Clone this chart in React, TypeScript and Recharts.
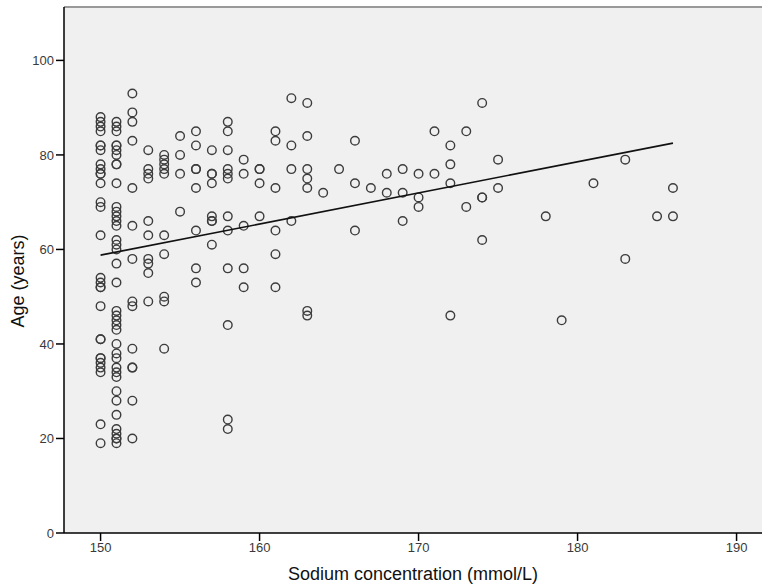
import React from 'react';
import {
  ScatterChart, Scatter, XAxis, YAxis, CartesianGrid, ReferenceLine,
} from 'recharts';

// one entry per patient, grouped by sodium value
const sodium = [
  150, 150, 150, 150, 150, 150, 150, 150, 150, 150, 150, 150, 150, 150, 150, 150, 150, 150, 150, 150, 150, 150, 150, 150, 150, 150, 150, 150, 150,
  151, 151, 151, 151, 151, 151, 151, 151, 151, 151, 151, 151, 151, 151, 151, 151, 151, 151, 151, 151, 151, 151, 151, 151, 151, 151, 151, 151, 151, 151, 151, 151, 151, 151, 151, 151, 151, 151, 151,
  152, 152, 152, 152, 152, 152, 152, 152, 152, 152, 152, 152, 152, 152,
  153, 153, 153, 153, 153, 153, 153, 153, 153, 153,
  154, 154, 154, 154, 154, 154, 154, 154, 154, 154,
  155, 155, 155, 155,
  156, 156, 156, 156, 156, 156, 156, 156,
  157, 157, 157, 157, 157, 157, 157, 157,
  158, 158, 158, 158, 158, 158, 158, 158, 158, 158, 158, 158,
  159, 159, 159, 159, 159,
  160, 160, 160, 160,
  161, 161, 161, 161, 161, 161,
  162, 162, 162, 162,
  163, 163, 163, 163, 163, 163, 163,
  164, 165, 166, 166, 166, 167, 168, 168, 169, 169, 169,
  170, 170, 170, 171, 171, 172, 172, 172, 172, 173, 173,
  174, 174, 174, 174, 175, 175, 178, 179, 181, 183, 183, 185, 186, 186,
];

const age = [
  88, 87, 86, 85, 82, 82, 81, 78, 77, 76, 76, 74, 70, 69, 63, 54, 53, 52, 52, 48, 41, 41, 37, 37, 36, 35, 34, 23, 19,
  87, 86, 85, 82, 82, 81, 80, 78, 78, 74, 69, 68, 67, 66, 65, 62, 61, 60, 57, 53, 47, 46, 45, 44, 43, 40, 38, 37, 35, 34, 33, 30, 28, 25, 22, 21, 20, 20, 19,
  93, 89, 87, 83, 73, 65, 58, 49, 48, 39, 35, 35, 28, 20,
  81, 77, 76, 75, 66, 63, 58, 57, 55, 49,
  80, 79, 78, 77, 76, 63, 59, 50, 49, 39,
  84, 80, 76, 68,
  85, 82, 77, 77, 73, 64, 56, 53,
  81, 76, 76, 74, 67, 66, 66, 61,
  87, 85, 81, 77, 76, 75, 67, 64, 56, 44, 24, 22,
  79, 76, 65, 56, 52,
  77, 77, 74, 67,
  85, 83, 73, 64, 59, 52,
  92, 82, 77, 66,
  91, 84, 77, 75, 73, 47, 46,
  72, 77, 83, 74, 64, 73, 76, 72, 77, 72, 66,
  76, 71, 69, 85, 76, 82, 78, 74, 46, 85, 69,
  91, 71, 71, 62, 79, 73, 67, 45, 74, 79, 58, 67, 73, 67,
];

// fitted line end points
const fitSodium = [150, 186];
const fitAge = [58.8, 82.5];

const xTicks = [150, 160, 170, 180, 190];
const yTicks = [0, 20, 40, 60, 80, 100];
const xDomain: [number, number] = [147.7, 191.6];
const yDomain: [number, number] = [0, 111.3];

const points = sodium.map((s, i) => ({ sodium: s, age: age[i] }));
const fitLine = fitSodium.map((s, i) => ({ sodium: s, age: fitAge[i] }));

const font = '"Liberation Sans", Arial, sans-serif';

const OpenCircle = (props: any) => {
  const { cx, cy } = props;
  if (cx == null || cy == null) return <g />;
  return <circle cx={cx} cy={cy} r={4.3} fill="none" stroke="#3c3c3c" strokeWidth={1.4} />;
};

const YLabel = () => {
  const x = 24;
  const y = 281;
  return (
    <text x={x} y={y} transform={`rotate(-90 ${x} ${y})`} textAnchor="middle"
      fontFamily={font} fontSize={18} fill="#111">
      Age (years)
    </text>
  );
};

export default function App() {
  return (
    <div style={{ position: 'absolute', left: 0, top: 0, background: '#fff' }}>
      <ScatterChart width={762} height={585} margin={{ top: 7, right: 0, left: 0, bottom: 0 }}>
        <CartesianGrid fill="#f0f0f0" horizontal={false} vertical={false} />
        <XAxis
          type="number"
          dataKey="sodium"
          domain={xDomain}
          ticks={xTicks}
          allowDataOverflow
          height={52}
          tickSize={8}
          tickMargin={2}
          stroke="#000"
          strokeWidth={1.5}
          tick={{ fontSize: 13, fill: '#3a3a3a', fontFamily: font }}
          label={{ value: 'Sodium concentration (mmol/L)', position: 'insideBottom', offset: 5, style: { fontSize: 18, fill: '#111', fontFamily: font } }}
        />
        <YAxis
          type="number"
          dataKey="age"
          domain={yDomain}
          ticks={yTicks}
          allowDataOverflow
          width={64}
          tickSize={8}
          tickMargin={2}
          stroke="#000"
          strokeWidth={1.5}
          tick={{ fontSize: 13, fill: '#3a3a3a', fontFamily: font }}
          label={<YLabel />}
        />
        <ReferenceLine y={yDomain[1]} stroke="#999" strokeWidth={2} ifOverflow="visible" />
        <Scatter data={points} shape={<OpenCircle />} isAnimationActive={false} />
        <Scatter data={fitLine} line={{ stroke: '#111', strokeWidth: 1.6 }} shape={() => <g />} isAnimationActive={false} />
      </ScatterChart>
    </div>
  );
}
